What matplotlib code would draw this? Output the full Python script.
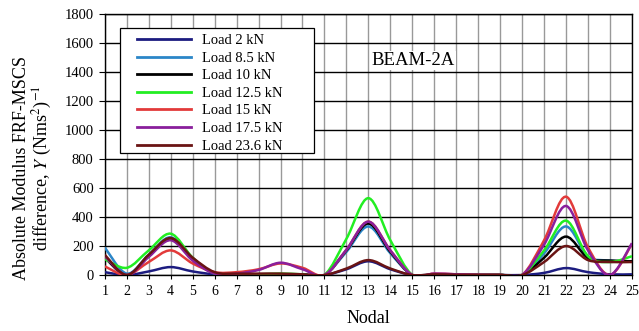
import numpy as np
import matplotlib
matplotlib.use("Agg")
import matplotlib.pyplot as plt
from matplotlib.path import Path
from matplotlib.patches import PathPatch, Rectangle
from matplotlib.lines import Line2D
from matplotlib.legend_handler import HandlerLine2D

plt.rcParams['font.family'] = ['Liberation Serif', 'DejaVu Serif']
plt.rcParams['mathtext.fontset'] = 'stix'

# nodal positions
nodes = list(range(1, 26))

# absolute modulus FRF-MSCS difference per load case
load_2 = [20, 0, 25, 55, 25, 5, 3, 3, 3, 3, 0, 40, 95, 40, 0, 3, 2, 1, 1, 0, 15, 48, 20, 5, 5]
load_8_5 = [190, 10, 140, 260, 110, 10, 5, 5, 5, 5, 0, 160, 335, 150, 0, 5, 2, 1, 1, 0, 150, 335, 130, 100, 95]
load_10 = [120, 0, 130, 250, 110, 10, 5, 5, 5, 5, 0, 170, 355, 160, 0, 5, 2, 1, 1, 0, 120, 265, 117, 100, 95]
load_12_5 = [110, 50, 170, 285, 120, 10, 5, 5, 10, 5, 0, 250, 530, 240, 0, 5, 2, 1, 1, 0, 170, 375, 130, 90, 130]
load_15 = [60, 0, 90, 170, 80, 20, 20, 40, 80, 50, 0, 175, 368, 170, 0, 10, 5, 2, 1, 0, 240, 540, 190, 0, 215]
load_17_5 = [130, 0, 125, 240, 100, 10, 10, 35, 85, 40, 0, 175, 368, 170, 0, 10, 5, 2, 1, 0, 210, 476, 170, 0, 220]
load_23_6 = [140, 0, 140, 255, 120, 20, 10, 10, 10, 5, 0, 45, 103, 45, 0, 5, 2, 1, 1, 0, 90, 200, 103, 90, 90]

series = [load_2, load_8_5, load_10, load_12_5, load_15, load_17_5, load_23_6]
labels = ["Load 2 kN", "Load 8.5 kN", "Load 10 kN", "Load 12.5 kN",
          "Load 15 kN", "Load 17.5 kN", "Load 23.6 kN"]
colors = ["#1c1c80", "#2b86c8", "#000000", "#22ee22", "#e23a3a", "#8a1f9c", "#6a1414"]


def smooth_path(x, y, t=1 / 6.0):
    # Catmull-Rom style bezier through the data points (like spreadsheet smoothing)
    x = np.asarray(x, float)
    y = np.asarray(y, float)
    verts = [(x[0], y[0])]
    codes = [Path.MOVETO]
    n = len(x)
    for i in range(n - 1):
        p0 = (x[max(i - 1, 0)], y[max(i - 1, 0)])
        p1 = (x[i], y[i])
        p2 = (x[i + 1], y[i + 1])
        p3 = (x[min(i + 2, n - 1)], y[min(i + 2, n - 1)])
        c1 = (p1[0] + (p2[0] - p0[0]) * t, p1[1] + (p2[1] - p0[1]) * t)
        c2 = (p2[0] - (p3[0] - p1[0]) * t, p2[1] - (p3[1] - p1[1]) * t)
        verts += [c1, c2, p2]
        codes += [Path.CURVE4] * 3
    return Path(verts, codes)


fig = plt.figure(figsize=(6.39, 3.31), dpi=100)
ax = fig.add_axes([0.164, 0.169, 0.825, 0.789])

for vals, lab, col in zip(series, labels, colors):
    patch = PathPatch(smooth_path(nodes, vals), facecolor='none', edgecolor=col,
                      lw=1.8, transform=ax.transData, zorder=3)
    ax.add_patch(patch)

ax.set_xlim(1, 25)
ax.set_ylim(0, 1800)
ax.set_xticks(nodes)
ax.set_yticks(range(0, 1801, 200))
ax.tick_params(axis='x', labelsize=10, direction='out', length=3, pad=4)
ax.tick_params(axis='y', labelsize=10.5, direction='out', length=4, pad=4)
ax.xaxis.grid(True, color='#999999', lw=1.0)
ax.yaxis.grid(True, color='black', lw=1.0)
ax.set_axisbelow(True)
for s in ax.spines.values():
    s.set_color('black')
    s.set_linewidth(1.0)

ax.set_xlabel("Nodal", fontsize=13, labelpad=9)
ax.set_ylabel("Absolute Modulus FRF-MSCS\ndifference, $\\mathit{Y}$ (Nms$^2$)$^{-1}$",
              fontsize=13, linespacing=1.05)
ax.yaxis.set_label_coords(-0.097, 0.41)

ax.text(15.05, 1480, "BEAM-2A", fontsize=13.5, ha='center', va='center',
        bbox=dict(facecolor='white', edgecolor='none', pad=1))

# legend box drawn separately so it can be wider than the entries need
ax.add_patch(Rectangle((0.0285, 0.467), 0.368, 0.479, transform=ax.transAxes,
                       facecolor='white', edgecolor='black', lw=0.9, zorder=4))
handles = [Line2D([], [], color=c, lw=2.0) for c in colors]
leg = ax.legend(handles, labels, loc='upper left', bbox_to_anchor=(0.052, 0.94),
                fontsize=10.5, handlelength=3.7, labelspacing=0.3, frameon=False,
                borderpad=0.3, handletextpad=0.8, borderaxespad=0)
leg.set_zorder(5)

fig.savefig("out.png", dpi=100)
